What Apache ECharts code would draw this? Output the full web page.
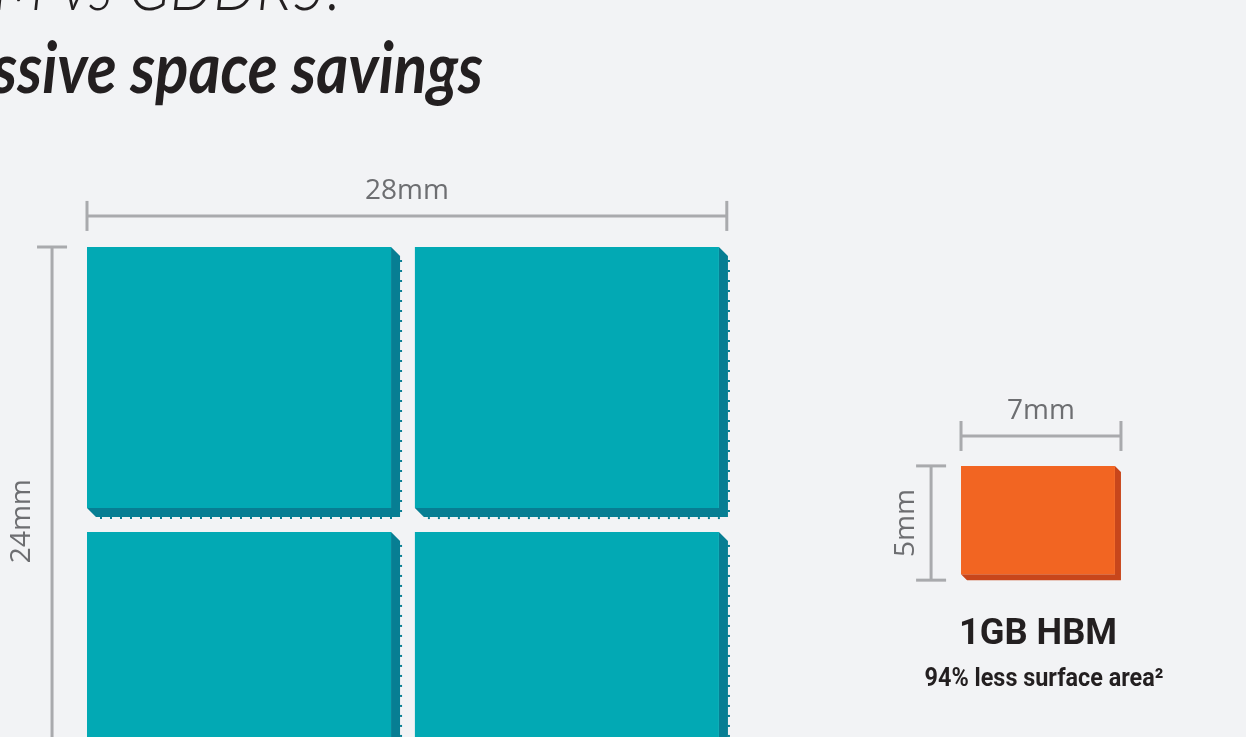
<!DOCTYPE html>
<html>
<head>
<meta charset="utf-8">
<script src="https://cdn.jsdelivr.net/npm/echarts@6/dist/echarts.min.js"></script>
<style>
  html, body { margin: 0; padding: 0; background: #f2f3f5; }
  #main { width: 1246px; height: 737px; }
</style>
</head>
<body>
<div id="main"></div>
<script>
// chip footprints, in mm (x, y from the top-left corner of the GDDR5 block)
var chipNames = ['GDDR5 A', 'GDDR5 B', 'GDDR5 C', 'GDDR5 D', '1GB HBM'];
var chipX = [0, 14.35, 0, 14.35, 38.25];
var chipY = [0, 0, 12.47, 12.47, 9.58];
var chipW = [13.7, 13.7, 13.7, 13.7, 7];
var chipH = [11.82, 11.82, 11.82, 11.82, 5];
var chipKind = [0, 0, 0, 0, 1];

// dimension lines, in mm
var dimLabels = ['28mm', '24mm', '7mm', '5mm'];
var dimX1 = [0, -1.53, 38.25, 36.94];
var dimY1 = [-1.36, 0, 8.27, 9.58];
var dimX2 = [28, -1.53, 45.25, 36.94];
var dimY2 = [-1.36, 24, 8.27, 14.58];

var titleLines = ['HBM vs GDDR5:', 'Massive space savings'];
var hbmTitle = '1GB HBM';
var hbmNote = '94% less surface area²';

(function(){
	var chart = echarts.init(document.getElementById('main'));
	var PX = 22.85;   // pixels per mm
	var ox = 87, oy = 247;
	var faceCol = ['#02a9b4', '#f26522'];
	var sideCol = ['#077e93', '#c8461b'];
	var depth = [9, 6];

	var chipData = chipNames.map(function (n, i) {
		return { name: n, value: [chipX[i], chipY[i], chipW[i], chipH[i], chipKind[i]] };
	});
	var dimData = dimLabels.map(function (n, i) {
		return { name: n, value: [dimX1[i], dimY1[i], dimX2[i], dimY2[i], i] };
	});

	function renderChip(params, api) {
		var k = api.value(4);
		var p0 = api.coord([api.value(0), api.value(1)]);
		var p1 = api.coord([api.value(0) + api.value(2), api.value(1) + api.value(3)]);
		var d = depth[k];
		var kids = [];
		kids.push({
			type: 'polygon',
			shape: { points: [[p1[0] - d, p0[1]], [p1[0], p0[1] + d], [p1[0], p1[1]],
				[p0[0] + d, p1[1]], [p0[0], p1[1] - d], [p1[0] - d, p1[1] - d]] },
			style: { fill: sideCol[k] }
		});
		kids.push({
			type: 'rect',
			shape: { x: p0[0], y: p0[1], width: p1[0] - p0[0] - d, height: p1[1] - p0[1] - d },
			style: { fill: faceCol[k] }
		});
		if (k === 0) {
			for (var y = p0[1] + d + 4; y < p1[1] - 4; y += 10) {
				kids.push({ type: 'rect', shape: { x: p1[0], y: y, width: 2, height: 2 }, style: { fill: sideCol[k] } });
			}
			for (var x = p0[0] + d + 4; x < p1[0] - 4; x += 10) {
				kids.push({ type: 'rect', shape: { x: x, y: p1[1], width: 2, height: 2 }, style: { fill: sideCol[k] } });
			}
		}
		return { type: 'group', children: kids };
	}

	function renderDim(params, api) {
		var a = api.coord([api.value(0), api.value(1)]);
		var b = api.coord([api.value(2), api.value(3)]);
		var horiz = Math.abs(a[1] - b[1]) < 1;
		var t = 15;
		var line = { stroke: '#a9aaad', lineWidth: 3 };
		var kids = [
			{ type: 'line', shape: { x1: a[0], y1: a[1], x2: b[0], y2: b[1] }, style: line }
		];
		var label;
		if (horiz) {
			kids.push({ type: 'line', shape: { x1: a[0], y1: a[1] - t, x2: a[0], y2: a[1] + t }, style: line });
			kids.push({ type: 'line', shape: { x1: b[0], y1: b[1] - t, x2: b[0], y2: b[1] + t }, style: line });
			label = { type: 'text', x: (a[0] + b[0]) / 2, y: a[1] - 25 };
		} else {
			kids.push({ type: 'line', shape: { x1: a[0] - t, y1: a[1], x2: a[0] + t, y2: a[1] }, style: line });
			kids.push({ type: 'line', shape: { x1: b[0] - t, y1: b[1], x2: b[0] + t, y2: b[1] }, style: line });
			label = { type: 'text', x: a[0] - (params.dataIndex === 1 ? 30 : 25), y: (a[1] + b[1]) / 2, rotation: Math.PI / 2 };
		}
		label.style = {
			text: dimLabels[api.value(4)], x: 0, y: 0, textAlign: 'center', textVerticalAlign: 'middle',
			fill: '#6d6e71', font: '28px "Open Sans", sans-serif'
		};
		kids.push(label);
		return { type: 'group', children: kids };
	}

	var option = {
		backgroundColor: '#f2f3f5',
		animation: false,
		grid: { left: 0, right: 0, top: 0, bottom: 0 },
		xAxis: { type: 'value', show: false, min: -ox / PX, max: (1246 - ox) / PX },
		yAxis: { type: 'value', show: false, inverse: true, min: -oy / PX, max: (737 - oy) / PX },
		graphic: [
			{
				type: 'text', x: 341, y: -13, scaleX: 0.85,
				style: { text: titleLines[0], x: 0, y: 0, textAlign: 'right', textVerticalAlign: 'middle',
					fill: '#231f20', font: 'italic 300 72px Lato, sans-serif' }
			},
			{
				type: 'text', x: 483, y: 70, scaleX: 0.88,
				style: { text: titleLines[1], x: 0, y: 0, textAlign: 'right', textVerticalAlign: 'middle',
					fill: '#231f20', font: 'italic bold 70px Lato, sans-serif' }
			},
			{
				type: 'text', x: 1038, y: 635, scaleX: 0.98,
				style: { text: hbmTitle, x: 0, y: 0, textAlign: 'center', textVerticalAlign: 'middle',
					fill: '#231f20', font: 'bold 37px Roboto, sans-serif' }
			},
			{
				type: 'text', x: 1044, y: 679, scaleX: 0.9,
				style: { text: hbmNote, x: 0, y: 0, textAlign: 'center', textVerticalAlign: 'middle',
					fill: '#231f20', font: 'bold 26px Roboto, sans-serif' }
			}
		],
		series: [
			{ type: 'custom', name: 'chips', renderItem: renderChip, data: chipData, silent: true },
			{ type: 'custom', name: 'dimensions', renderItem: renderDim, data: dimData, silent: true }
		]
	};
	chart.setOption(option);
})();
</script>
</body>
</html>
